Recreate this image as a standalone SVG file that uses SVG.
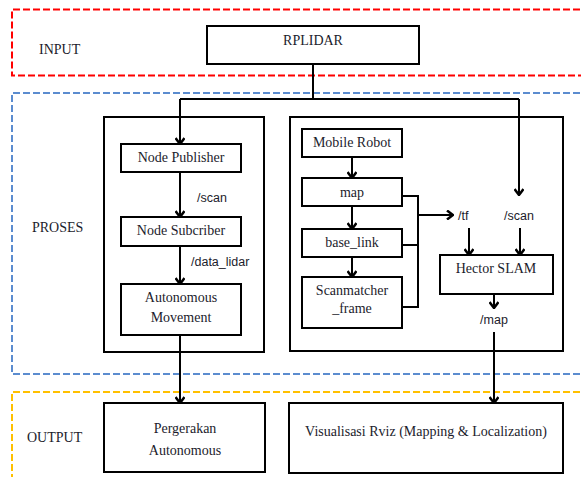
<svg xmlns="http://www.w3.org/2000/svg" width="581" height="477" viewBox="0 0 581 477">
<style>
.zone{fill:none;stroke-width:2;stroke-dasharray:7 3}
.box{fill:#fff;stroke:#000;stroke-width:2}
.cont{fill:none;stroke:#000;stroke-width:2}
.t{font-family:"Liberation Serif","Times New Roman",serif;font-size:14px;fill:#1c1c2c;text-anchor:middle}
.z{font-family:"Liberation Serif","Times New Roman",serif;font-size:14px;fill:#1c1c2c}
.s{font-family:"Liberation Sans",Arial,sans-serif;font-size:12.5px;fill:#1c1c2c}
.c{fill:none;stroke:#000;stroke-width:2}
.a{marker-end:url(#arr)}
</style>
<defs>
<marker id="arr" viewBox="0 0 10 10" refX="9" refY="5" markerWidth="10" markerHeight="10" markerUnits="userSpaceOnUse" orient="auto">
<path d="M3,0.5 L9,5 L3,9.5" fill="none" stroke="#000" stroke-width="2.5"/>
</marker>
</defs>
<g id="zones">
<path class="zone" stroke="#FF0000" d="M590,9.5 H12 V75.5 H590"/>
<path class="zone" stroke="#5B8CCF" d="M590,93 H12 V374 H590"/>
<path class="zone" stroke="#FFC000" d="M590,392 H12 V485"/>
<text class="z" x="39" y="54">INPUT</text>
<text class="z" x="32" y="232">PROSES</text>
<text class="z" x="27" y="442">OUTPUT</text>
</g>
<g id="containers">
<rect class="cont" x="104" y="117" width="160" height="235"/>
<rect class="cont" x="290" y="117" width="273" height="234"/>
</g>
<g id="connectors">
<path class="c" d="M313,64 V99"/>
<path class="c" d="M180,99 H519"/>
<path class="c a" d="M180,99 V144"/>
<path class="c a" d="M519,99 V195"/>
<path class="c a" d="M180,172 V217"/>
<path class="c a" d="M180,246 V284"/>
<path class="c a" d="M180,335 V403"/>
<path class="c a" d="M352,157 V178"/>
<path class="c a" d="M352,206 V229"/>
<path class="c a" d="M352,257 V277"/>
<path class="c" d="M402,196 H418 V307 H402 M402,245 H418"/>
<path class="c a" d="M418,215 H453"/>
<path class="c a" d="M469,228 V255"/>
<path class="c a" d="M520,228 V255"/>
<path class="c a" d="M494,294 V308"/>
<path class="c a" d="M494,332 V403"/>
<text class="s" x="197" y="202">/scan</text>
<text class="s" x="191" y="266">/data_lidar</text>
<text class="s" x="458" y="220">/tf</text>
<text class="s" x="504" y="220">/scan</text>
<text class="s" x="494" y="324" text-anchor="middle">/map</text>
</g>
<g id="rplidar"><rect class="box" x="207" y="26" width="212" height="38"/><text class="t" x="313" y="45">RPLIDAR</text></g>
<g id="node-publisher"><rect class="box" x="121" y="144" width="120" height="28"/><text class="t" x="181" y="162">Node Publisher</text></g>
<g id="node-subcriber"><rect class="box" x="121" y="217" width="120" height="29"/><text class="t" x="181" y="235">Node Subcriber</text></g>
<g id="autonomous-movement"><rect class="box" x="121" y="284" width="120" height="51"/><text class="t" x="181" y="302">Autonomous</text><text class="t" x="181" y="322">Movement</text></g>
<g id="mobile-robot"><rect class="box" x="302" y="129" width="100" height="28"/><text class="t" x="352" y="147">Mobile Robot</text></g>
<g id="map"><rect class="box" x="302" y="178" width="100" height="28"/><text class="t" x="352" y="197">map</text></g>
<g id="base-link"><rect class="box" x="302" y="229" width="100" height="28"/><text class="t" x="352" y="247">base_link</text></g>
<g id="scanmatcher-frame"><rect class="box" x="302" y="277" width="100" height="51"/><text class="t" x="352" y="295">Scanmatcher</text><text class="t" x="352" y="313">_frame</text></g>
<g id="hector-slam"><rect class="box" x="440" y="255" width="113" height="39"/><text class="t" x="496" y="273">Hector SLAM</text></g>
<g id="pergerakan"><rect class="box" x="104" y="403" width="161" height="69"/><text class="t" x="185" y="433">Pergerakan</text><text class="t" x="185" y="455">Autonomous</text></g>
<g id="visualisasi"><rect class="box" x="289" y="403" width="274" height="70"/><text class="t" x="426" y="436">Visualisasi Rviz (Mapping &amp; Localization)</text></g>
</svg>
